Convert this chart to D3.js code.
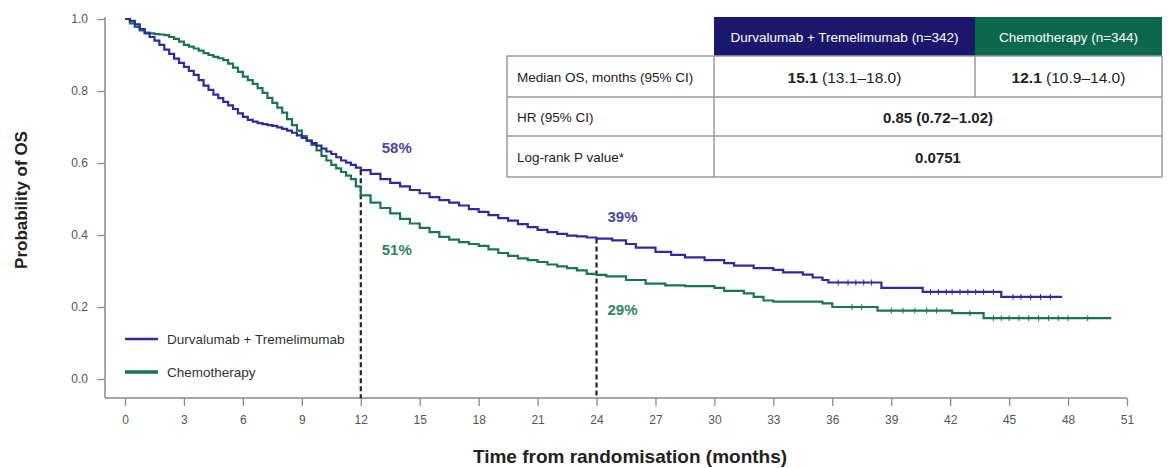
<!DOCTYPE html>
<html>
<head>
<meta charset="utf-8">
<script src="https://cdn.jsdelivr.net/npm/d3@7"></script>
<style>
    body { margin: 0; background: #fff; }
    svg { display: block; font-family: 'Liberation Sans', Arial, sans-serif; }
</style>
</head>
<body>
<div id="chart"></div>
<script>
// KM step points, [month, survival]
const durva_steps = [
    [0, 1.0], [0.25, 0.995], [0.5, 0.985], [0.75, 0.972], [1, 0.96], [1.25, 0.95], [1.5, 0.94], [1.75, 0.928],
    [2, 0.915], [2.25, 0.903], [2.5, 0.89], [2.75, 0.878], [3, 0.867], [3.25, 0.856], [3.5, 0.845], [3.75, 0.83],
    [4, 0.815], [4.25, 0.803], [4.5, 0.79], [4.75, 0.78], [5, 0.77], [5.25, 0.76], [5.5, 0.75], [5.75, 0.738],
    [6, 0.728], [6.25, 0.72], [6.5, 0.715], [6.75, 0.711], [7, 0.708], [7.25, 0.705], [7.5, 0.703], [7.75, 0.699],
    [8, 0.695], [8.25, 0.69], [8.5, 0.684], [8.75, 0.677], [9, 0.67], [9.25, 0.662], [9.5, 0.655], [9.75, 0.648],
    [10, 0.64], [10.25, 0.632], [10.5, 0.625], [10.75, 0.616], [11, 0.607], [11.25, 0.601], [11.5, 0.595], [11.75, 0.587],
    [12, 0.58], [12.5, 0.57], [13, 0.555], [13.5, 0.545], [14, 0.535], [14.5, 0.525], [15, 0.516], [15.5, 0.505],
    [16, 0.497], [16.5, 0.49], [17, 0.482], [17.5, 0.472], [18, 0.464], [18.5, 0.455], [19, 0.447], [19.5, 0.44],
    [20, 0.43], [20.5, 0.422], [21, 0.414], [21.5, 0.408], [22, 0.403], [22.5, 0.398], [23, 0.396], [23.5, 0.393],
    [24, 0.39], [24.8, 0.385], [25.5, 0.375], [26, 0.365], [27, 0.353], [27.8, 0.345], [28.5, 0.338], [29.5, 0.33],
    [30.5, 0.322], [31, 0.315], [32, 0.308], [33, 0.303], [33.5, 0.296], [34.5, 0.29], [35, 0.282], [35.5, 0.275],
    [35.8, 0.268], [38.5, 0.253], [40.6, 0.242], [44.6, 0.228], [47.7, 0.228]
]
const chemo_steps = [
    [0, 1.0], [0.25, 0.988], [0.5, 0.978], [0.75, 0.968], [1, 0.962], [1.25, 0.96], [1.5, 0.958], [1.75, 0.957],
    [2, 0.955], [2.25, 0.95], [2.5, 0.945], [2.75, 0.937], [3, 0.928], [3.25, 0.923], [3.5, 0.918], [3.75, 0.912],
    [4, 0.905], [4.25, 0.9], [4.5, 0.895], [4.75, 0.891], [5, 0.886], [5.25, 0.876], [5.5, 0.865], [5.75, 0.853],
    [6, 0.84], [6.25, 0.83], [6.5, 0.82], [6.75, 0.808], [7, 0.795], [7.25, 0.781], [7.5, 0.767], [7.75, 0.754],
    [8, 0.74], [8.25, 0.722], [8.5, 0.705], [8.75, 0.69], [9, 0.675], [9.25, 0.662], [9.5, 0.65], [9.75, 0.635],
    [10, 0.62], [10.25, 0.607], [10.5, 0.595], [10.75, 0.585], [11, 0.575], [11.25, 0.565], [11.5, 0.555], [11.75, 0.535],
    [12, 0.51], [12.5, 0.49], [13, 0.475], [13.5, 0.46], [14, 0.445], [14.5, 0.432], [15, 0.42],
    [15.5, 0.408], [16, 0.395], [16.5, 0.387], [17, 0.38], [17.5, 0.375], [18, 0.37], [18.5, 0.36], [19, 0.35],
    [19.5, 0.342], [20, 0.335], [20.5, 0.33], [21, 0.325], [21.5, 0.318], [22, 0.313], [22.5, 0.308], [23, 0.302],
    [23.5, 0.292], [24, 0.289], [24.5, 0.285], [25.5, 0.275], [26.5, 0.265], [27.5, 0.26], [28.5, 0.258], [30, 0.253],
    [30.5, 0.245], [31.5, 0.238], [32, 0.228], [32.5, 0.218], [33, 0.215], [35.5, 0.21], [36, 0.2], [38.3, 0.19],
    [42.1, 0.183], [43.7, 0.169], [50.2, 0.169]
]
const durva_censors = [36.3, 36.8, 37.2, 37.6, 38.0, 41.0, 41.4, 41.8, 42.1, 42.5, 42.9, 43.3, 43.7, 44.2, 45.2, 45.6, 46.1, 46.6, 47.1]
const chemo_censors = [37.0, 37.5, 39.0, 39.6, 40.2, 40.8, 41.3, 43.0, 44.2, 44.6, 45.0, 45.5, 46.0, 46.5, 47.0, 47.5, 48.0, 49.0]

const x_ticks = d3.range(0, 52, 3)
const y_ticks = [0, 0.2, 0.4, 0.6, 0.8, 1.0]
const landmark_months = [12, 24]
const landmark_durva = ['58%', '39%']
const landmark_chemo = ['51%', '29%']

const series_names = ['Durvalumab + Tremelimumab', 'Chemotherapy']
const table_header = ['Durvalumab + Tremelimumab (n=342)', 'Chemotherapy (n=344)']
const table_rows = ['Median OS, months (95% CI)', 'HR (95% CI)', 'Log-rank P value*']
const median_os = [['15.1', ' (13.1\u201318.0)'], ['12.1', ' (10.9\u201314.0)']]
const hr_text = '0.85 (0.72\u20131.02)'
const p_text = '0.0751'

const width = 1169
const height = 468
const blue = '#2f2b9e'
const green = '#1b7453'
const blue_label = '#4a47aa'
const green_label = '#2c8565'

const svg = d3.select('#chart').append('svg')
    .attr('width', width)
    .attr('height', height)

const x = d3.scaleLinear().domain([0, 51]).range([125, 1127])
const y = d3.scaleLinear().domain([0, 1]).range([379, 19])

// frame lines (L shape, extends past 0)
const axis_left = 105
const axis_bottom = 398
svg.append('line')
    .attr('x1', axis_left).attr('x2', axis_left)
    .attr('y1', 17).attr('y2', axis_bottom)
    .attr('stroke', '#8a8a8a').attr('stroke-width', 1.5)
svg.append('line')
    .attr('x1', axis_left).attr('x2', x(51))
    .attr('y1', axis_bottom).attr('y2', axis_bottom)
    .attr('stroke', '#8a8a8a').attr('stroke-width', 1.5)

const y_axis = svg.append('g')
    .attr('transform', `translate(${ axis_left },0)`)
    .call(d3.axisLeft(y).tickValues(y_ticks).tickFormat(d3.format('.1f')).tickSize(8).tickPadding(9))
const x_axis = svg.append('g')
    .attr('transform', `translate(0,${ axis_bottom })`)
    .call(d3.axisBottom(x).tickValues(x_ticks).tickSize(8).tickPadding(9))

;[y_axis, x_axis].forEach(g => {
    g.select('.domain').remove()
    g.selectAll('.tick line').attr('stroke', '#8a8a8a').attr('stroke-width', 1.3)
    g.selectAll('.tick text')
        .attr('fill', '#555')
        .attr('font-size', 12)
        .attr('font-family', null)
})

svg.append('text')
    .attr('transform', `translate(27,200) rotate(-90)`)
    .attr('text-anchor', 'middle')
    .attr('font-size', 17)
    .attr('font-weight', 'bold')
    .attr('fill', '#222')
    .text('Probability of OS')

svg.append('text')
    .attr('x', 630)
    .attr('y', 463)
    .attr('text-anchor', 'middle')
    .attr('font-size', 19)
    .attr('font-weight', 'bold')
    .attr('fill', '#222')
    .text('Time from randomisation (months)')

const value_at = steps => t => {
    let v = 1
    steps.forEach(d => { if (d[0] <= t) v = d[1] })
    return v
}
const durva_at = value_at(durva_steps)
const chemo_at = value_at(chemo_steps)

// landmark dashed lines
svg.append('g').selectAll('line')
    .data(landmark_months)
    .enter()
    .append('line')
    .attr('x1', d => x(d)).attr('x2', d => x(d))
    .attr('y1', d => y(durva_at(d)))
    .attr('y2', axis_bottom)
    .attr('stroke', '#222')
    .attr('stroke-width', 2.2)
    .attr('stroke-dasharray', '5,3')

// curves
const line = d3.line()
    .x(d => x(d[0]))
    .y(d => y(d[1]))
    .curve(d3.curveStepAfter)

const arms = [
    { steps: chemo_steps, censors: chemo_censors, color: green, at: chemo_at },
    { steps: durva_steps, censors: durva_censors, color: blue, at: durva_at }
]
arms.forEach(arm => {
    svg.append('path')
        .attr('d', line(arm.steps))
        .attr('fill', 'none')
        .attr('stroke', arm.color)
        .attr('stroke-width', 2.2)
    svg.append('g').selectAll('line')
        .data(arm.censors)
        .enter()
        .append('line')
        .attr('x1', d => x(d)).attr('x2', d => x(d))
        .attr('y1', d => y(arm.at(d)) - 3)
        .attr('y2', d => y(arm.at(d)) + 3)
        .attr('stroke', arm.color)
        .attr('stroke-width', 1)
})

// landmark labels
const label_dx = [21, 11]
const chemo_label_dy = [60, 40]
svg.append('g').selectAll('text')
    .data(landmark_months)
    .enter()
    .append('text')
    .attr('x', (d, i) => x(d) + label_dx[i])
    .attr('y', d => y(durva_at(d)) - 17)
    .attr('font-size', 15)
    .attr('font-weight', 'bold')
    .attr('fill', blue_label)
    .text((d, i) => landmark_durva[i])
svg.append('g').selectAll('text')
    .data(landmark_months)
    .enter()
    .append('text')
    .attr('x', (d, i) => x(d) + label_dx[i])
    .attr('y', (d, i) => y(chemo_at(d)) + chemo_label_dy[i])
    .attr('font-size', 15)
    .attr('font-weight', 'bold')
    .attr('fill', green_label)
    .text((d, i) => landmark_chemo[i])

// legend
const legend = svg.append('g').selectAll('g')
    .data(series_names)
    .enter()
    .append('g')
    .attr('transform', (d, i) => `translate(125,${ 339 + i * 33 })`)
legend.append('line')
    .attr('x1', 0).attr('x2', 33)
    .attr('stroke', (d, i) => i === 0 ? blue : green)
    .attr('stroke-width', (d, i) => i === 0 ? 2.5 : 3.5)
legend.append('text')
    .attr('x', 42)
    .attr('y', 5)
    .attr('font-size', 13.5)
    .attr('fill', '#333')
    .text(d => d)

// table
const tbl = svg.append('g')
const col = [507, 714, 975, 1162]
const row = [17, 56, 97, 136, 177]
const border = '#9a9a9a'

tbl.append('rect').attr('x', col[1]).attr('y', row[0]).attr('width', col[2] - col[1]).attr('height', row[1] - row[0]).attr('fill', '#1b176c')
tbl.append('rect').attr('x', col[2]).attr('y', row[0]).attr('width', col[3] - col[2]).attr('height', row[1] - row[0]).attr('fill', '#0c684c')
tbl.selectAll('text.head')
    .data(table_header)
    .enter()
    .append('text')
    .attr('class', 'head')
    .attr('x', (d, i) => (col[i + 1] + col[i + 2]) / 2)
    .attr('y', (row[0] + row[1]) / 2 + 5)
    .attr('text-anchor', 'middle')
    .attr('font-size', 13.5)
    .attr('fill', '#fff')
    .text(d => d)

tbl.append('rect')
    .attr('x', col[0]).attr('y', row[1])
    .attr('width', col[3] - col[0]).attr('height', row[4] - row[1])
    .attr('fill', '#fff')
    .attr('stroke', border).attr('stroke-width', 1.5)
tbl.selectAll('line.h')
    .data([row[2], row[3]])
    .enter()
    .append('line')
    .attr('x1', col[0]).attr('x2', col[3])
    .attr('y1', d => d).attr('y2', d => d)
    .attr('stroke', border).attr('stroke-width', 1.5)
tbl.append('line')
    .attr('x1', col[1]).attr('x2', col[1]).attr('y1', row[1]).attr('y2', row[4])
    .attr('stroke', border).attr('stroke-width', 1.5)
tbl.append('line')
    .attr('x1', col[2]).attr('x2', col[2]).attr('y1', row[1]).attr('y2', row[2])
    .attr('stroke', border).attr('stroke-width', 1.5)

tbl.selectAll('text.lab')
    .data(table_rows)
    .enter()
    .append('text')
    .attr('class', 'lab')
    .attr('x', col[0] + 10)
    .attr('y', (d, i) => (row[i + 1] + row[i + 2]) / 2 + 5)
    .attr('font-size', 13.5)
    .attr('fill', '#222')
    .text(d => d)

const med = tbl.selectAll('text.med')
    .data(median_os)
    .enter()
    .append('text')
    .attr('class', 'med')
    .attr('x', (d, i) => (col[i + 1] + col[i + 2]) / 2)
    .attr('y', (row[1] + row[2]) / 2 + 6)
    .attr('text-anchor', 'middle')
    .attr('font-size', 15.5)
    .attr('fill', '#222')
med.append('tspan').attr('font-weight', 'bold').text(d => d[0])
med.append('tspan').text(d => d[1])

tbl.selectAll('text.merged')
    .data([hr_text, p_text])
    .enter()
    .append('text')
    .attr('class', 'merged')
    .attr('x', (col[1] + col[3]) / 2)
    .attr('y', (d, i) => (row[i + 2] + row[i + 3]) / 2 + 6)
    .attr('text-anchor', 'middle')
    .attr('font-size', 15)
    .attr('font-weight', 'bold')
    .attr('fill', '#222')
    .text(d => d)
</script>
</body>
</html>
